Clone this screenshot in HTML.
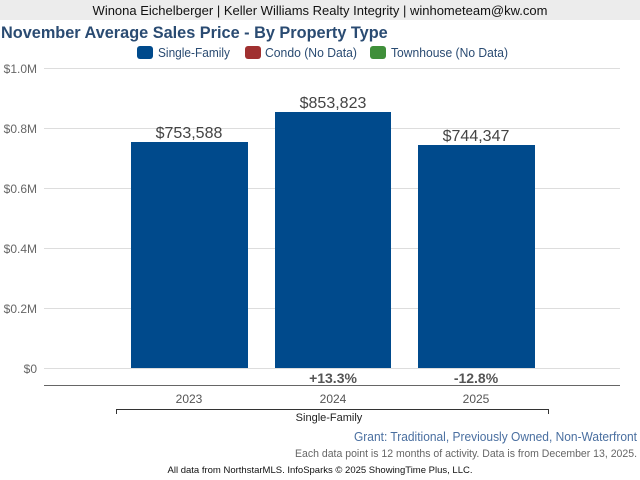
<!DOCTYPE html>
<html><head><style>
body{margin:0;width:640px;height:480px;background:#fff;font-family:"Liberation Sans",sans-serif;position:relative;overflow:hidden}
.a{position:absolute;white-space:nowrap}
</style></head><body>
<div class="a" style="left:0;top:0;width:640px;height:20px;background:#ececec;text-align:center;font-size:13px;line-height:21px;color:#111">Winona Eichelberger | Keller Williams Realty Integrity | winhometeam@kw.com</div>
<div class="a" style="left:1px;top:24px;font-size:16.3px;font-weight:bold;color:#2a4b72">November Average Sales Price - By Property Type</div>
<svg class="a" style="left:0;top:0" width="640" height="480">
<g font-size="12.5" fill="#2a4b72">
<rect x="137" y="46" width="16" height="13" rx="3" fill="#004a8c"/><text x="158" y="57" textLength="72" lengthAdjust="spacingAndGlyphs">Single-Family</text>
<rect x="245" y="46" width="16" height="13" rx="3" fill="#a03030"/><text x="265" y="57" textLength="92" lengthAdjust="spacingAndGlyphs">Condo (No Data)</text>
<rect x="370" y="46" width="16" height="13" rx="3" fill="#3f8f3a"/><text x="391" y="57" textLength="117" lengthAdjust="spacingAndGlyphs">Townhouse (No Data)</text>
</g>
<g stroke="#ddd" stroke-width="1">
<line x1="44" x2="620" y1="68.5" y2="68.5"/><line x1="44" x2="620" y1="128.5" y2="128.5"/><line x1="44" x2="620" y1="188.5" y2="188.5"/><line x1="44" x2="620" y1="248.5" y2="248.5"/><line x1="44" x2="620" y1="308.5" y2="308.5"/><line x1="44" x2="620" y1="368.5" y2="368.5"/>
</g>
<g font-size="12" fill="#666" text-anchor="end">
<text x="37" y="73">$1.0M</text><text x="37" y="133">$0.8M</text><text x="37" y="193">$0.6M</text><text x="37" y="253">$0.4M</text><text x="37" y="313">$0.2M</text><text x="37" y="373">$0</text>
</g>
<g fill="#004a8c">
<rect x="131" y="142" width="117" height="226"/><rect x="275" y="112" width="116" height="256"/><rect x="418" y="145" width="117" height="223"/>
</g>
<g font-size="16" fill="#444" text-anchor="middle">
<text x="189" y="138">$753,588</text><text x="333" y="108">$853,823</text><text x="476" y="141">$744,347</text>
</g>
<g font-size="14" font-weight="bold" fill="#555" text-anchor="middle">
<text x="333" y="383">+13.3%</text><text x="476" y="383">-12.8%</text>
</g>
<line x1="44" x2="620" y1="385.5" y2="385.5" stroke="#666"/>
<g font-size="12" fill="#555" text-anchor="middle">
<text x="189" y="403">2023</text><text x="333" y="403">2024</text><text x="476" y="403">2025</text>
</g>
<path d="M116.5 414V409.5H548.5V414" fill="none" stroke="#333"/>
<text x="329" y="421" font-size="11" fill="#222" text-anchor="middle">Single-Family</text>
<text x="354" y="441" font-size="12.5" fill="#4a6fa0" textLength="283" lengthAdjust="spacingAndGlyphs">Grant: Traditional, Previously Owned, Non-Waterfront</text>
<text x="295" y="457" font-size="11" fill="#666" textLength="342" lengthAdjust="spacingAndGlyphs">Each data point is 12 months of activity. Data is from December 13, 2025.</text>
<text x="320" y="473" font-size="9.5" fill="#111" text-anchor="middle">All data from NorthstarMLS. InfoSparks © 2025 ShowingTime Plus, LLC.</text>
</svg>
</body></html>
